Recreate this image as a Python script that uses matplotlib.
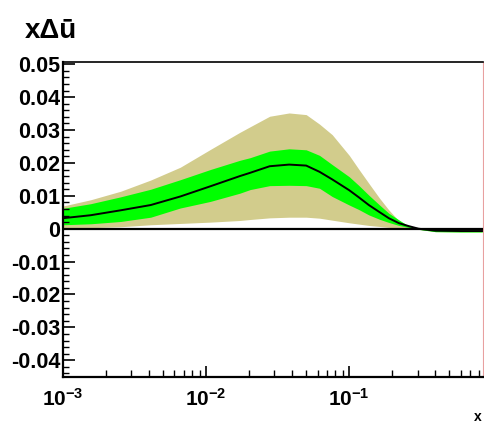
import numpy as np
import matplotlib
matplotlib.use("Agg")
import matplotlib.pyplot as plt
from matplotlib.ticker import MultipleLocator, LogLocator, NullFormatter, FixedLocator, FixedFormatter

plt.rcParams["font.family"] = ["Liberation Sans", "DejaVu Sans"]
plt.rcParams["font.weight"] = "bold"
plt.rcParams["mathtext.fontset"] = "custom"
plt.rcParams["mathtext.rm"] = "Liberation Sans:bold"
plt.rcParams["mathtext.bf"] = "Liberation Sans:bold"
plt.rcParams["mathtext.it"] = "Liberation Sans:bold"

# values
x = [0.001, 0.00156, 0.00253, 0.0041, 0.0066, 0.0107, 0.0172, 0.0203, 0.0278,
     0.038, 0.050, 0.062, 0.076, 0.100, 0.117, 0.137, 0.162, 0.189, 0.222,
     0.260, 0.305, 0.4, 0.6, 0.85]
central = [0.0032, 0.0041, 0.0056, 0.0072, 0.0098, 0.0129, 0.0160, 0.0170, 0.0190,
           0.0195, 0.0192, 0.0173, 0.0150, 0.0117, 0.0095, 0.0072, 0.0051, 0.0032,
           0.0017, 0.0008, 0.0000, -0.0006, -0.0007, -0.0007]
green_hi = [0.0062, 0.0076, 0.0097, 0.0120, 0.0149, 0.0180, 0.0208, 0.0216, 0.0236,
            0.0243, 0.0240, 0.0223, 0.0195, 0.0158, 0.0131, 0.0102, 0.0073, 0.0047,
            0.0027, 0.0008, 0.0001, -0.0004, -0.0005, -0.0005]
green_lo = [0.0012, 0.0015, 0.0022, 0.0035, 0.0063, 0.0083, 0.0108, 0.0119, 0.0131,
            0.0132, 0.0131, 0.0123, 0.0098, 0.0072, 0.0058, 0.0042, 0.0029, 0.0019,
            0.0010, 0.0004, -0.0002, -0.0009, -0.0010, -0.0010]
tan_hi = [0.0069, 0.0088, 0.0114, 0.0148, 0.0187, 0.0241, 0.0293, 0.0310, 0.0342,
          0.0352, 0.0347, 0.0318, 0.0286, 0.0223, 0.0180, 0.0138, 0.0094, 0.0057,
          0.0024, 0.0008, 0.0002, -0.0004, -0.0005, -0.0005]
tan_lo = [0.0002, 0.0003, 0.0006, 0.0012, 0.0016, 0.0020, 0.0025, 0.0028, 0.0033,
          0.0035, 0.0035, 0.0032, 0.0026, 0.0018, 0.0014, 0.0010, 0.0007, 0.0004,
          0.0002, 0.0001, -0.0002, -0.0009, -0.0010, -0.0010]

y_ticks = [-0.04, -0.03, -0.02, -0.01, 0, 0.01, 0.02, 0.03, 0.04, 0.05]
y_labels = ["-0.04", "-0.03", "-0.02", "-0.01", "0", "0.01", "0.02", "0.03", "0.04", "0.05"]
x_ticks = [1e-3, 1e-2, 1e-1]
x_labels = [r"$10^{-3}$", r"$10^{-2}$", r"$10^{-1}$"]

fig = plt.figure(figsize=(4.85, 4.24), dpi=100)
ax = fig.add_axes([0.1299, 0.1108, 0.8660, 0.7430])

ax.fill_between(x, tan_lo, tan_hi, color="#d2cc8c", lw=0)
ax.fill_between(x, green_lo, green_hi, color="#00ff00", lw=0)
ax.plot(x, central, color="black", lw=1.4)
ax.axhline(0, color="black", lw=1.6, zorder=5)

ax.set_xscale("log")
ax.set_xlim(1e-3, 0.86)
ax.set_ylim(-0.0451, 0.0507)

ax.yaxis.set_major_locator(FixedLocator(y_ticks))
ax.yaxis.set_major_formatter(FixedFormatter(y_labels))
ax.yaxis.set_minor_locator(MultipleLocator(0.002))
ax.xaxis.set_major_locator(FixedLocator(x_ticks))
ax.xaxis.set_major_formatter(FixedFormatter(x_labels))
ax.xaxis.set_minor_locator(LogLocator(base=10, subs=np.arange(2, 10)))
ax.xaxis.set_minor_formatter(NullFormatter())

ax.tick_params(axis="y", which="major", direction="in", length=8.5, width=1.2,
               labelsize=15.5, pad=2)
ax.tick_params(axis="y", which="minor", direction="in", length=4.3, width=1.0)
ax.tick_params(axis="x", which="major", direction="in", length=8, width=1.2,
               labelsize=15, pad=8)
ax.tick_params(axis="x", which="minor", direction="in", length=5, width=1.0)
ax.tick_params(right=False, top=False, which="both")

for s in ["left", "bottom"]:
    ax.spines[s].set_linewidth(1.6)
ax.spines["top"].set_linewidth(1.2)
ax.spines["right"].set_linewidth(0.8)
ax.spines["right"].set_color("#e8a0a0")

fig.text(0.052, 0.926, "x\u0394\u016b", fontsize=20, fontweight="bold",
         ha="left", va="center")
fig.text(0.985, 0.016, "x", fontsize=10, fontweight="bold", ha="center", va="center")

fig.savefig("out.png", dpi=100)
